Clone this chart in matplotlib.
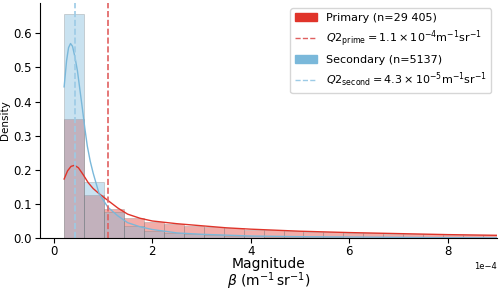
import matplotlib.pyplot as plt
import numpy as np
from matplotlib.patches import Patch
from matplotlib.lines import Line2D

# histogram bins (units of 1e-4 m^-1 sr^-1)
bin_start = 0.21
bin_width = 0.405

prime_heights = [0.348, 0.127, 0.086, 0.060, 0.048, 0.041, 0.036, 0.032, 0.028, 0.025, 0.023,
                 0.021, 0.019, 0.017, 0.015, 0.014, 0.013, 0.012, 0.011, 0.010, 0.009, 0.008]
second_heights = [0.656, 0.163, 0.075, 0.036, 0.022, 0.016, 0.012, 0.009, 0.007, 0.005, 0.004,
                  0.003, 0.0025, 0.002, 0.0015, 0.0012, 0.001, 0.0008, 0.0006, 0.0005, 0.0004, 0.0003]

# kde curves
prime_kde_x = [0.21, 0.28, 0.35, 0.42, 0.5, 0.6, 0.7, 0.8, 0.92, 1.1, 1.3, 1.5, 1.75, 2.0, 2.5,
               3.0, 3.5, 4.0, 5.0, 6.0, 7.0, 8.0, 9.0]
prime_kde_y = [0.173, 0.197, 0.210, 0.213, 0.206, 0.185, 0.162, 0.145, 0.130, 0.110, 0.088, 0.070,
               0.058, 0.050, 0.042, 0.036, 0.030, 0.026, 0.020, 0.016, 0.013, 0.010, 0.008]
second_kde_x = [0.21, 0.26, 0.30, 0.34, 0.38, 0.43, 0.48, 0.53, 0.58, 0.63, 0.68, 0.74, 0.8, 0.92,
                1.1, 1.3, 1.5, 1.75, 2.0, 2.5, 3.0, 4.0, 5.0, 6.0, 7.0, 8.0, 9.0]
second_kde_y = [0.443, 0.520, 0.558, 0.570, 0.562, 0.530, 0.490, 0.435, 0.380, 0.322, 0.270, 0.225,
                0.190, 0.130, 0.090, 0.065, 0.045, 0.033, 0.025, 0.015, 0.011, 0.006, 0.004,
                0.003, 0.002, 0.001, 0.0005]

q2_prime = 1.1
q2_second = 0.43
n_prime = "29 405"
n_second = "5137"

red = "#e0342a"
blue = "#7ab8da"

scale = 1e-4
edges = bin_start + bin_width * np.arange(len(prime_heights))

fig, ax = plt.subplots(figsize=(5, 2.91), dpi=100)

ax.bar(edges * scale, prime_heights, width=bin_width * scale, align="edge",
       color=red, alpha=0.4, edgecolor="0.45", linewidth=0.5)
ax.bar(edges * scale, second_heights, width=bin_width * scale, align="edge",
       color=blue, alpha=0.4, edgecolor="0.45", linewidth=0.5)

ax.plot(np.array(prime_kde_x) * scale, prime_kde_y, color=red, lw=1)
ax.plot(np.array(second_kde_x) * scale, second_kde_y, color=blue, lw=1)

ax.axvline(q2_prime * scale, color="#e06060", ls="--", lw=1.2)
ax.axvline(q2_second * scale, color="#9ccbe6", ls="--", lw=1.2)

ax.set_xlim(-0.28 * scale, 9.0 * scale)
ax.set_ylim(0, 0.689)
ax.ticklabel_format(axis="x", style="sci", scilimits=(-4, -4))
ax.xaxis.get_offset_text().set_fontsize(6)
ax.tick_params(labelsize=8.5, pad=2.5)
ax.tick_params(axis="x", pad=1.5)
ax.spines["top"].set_visible(False)
ax.spines["right"].set_visible(False)

ax.set_ylabel("Density", fontsize=7.5, labelpad=2)
ax.set_xlabel("Magnitude\n" + r"$\beta$ (m$^{-1}\,$sr$^{-1}$)", fontsize=10,
              linespacing=0.95)
ax.xaxis.set_label_coords(0.5, -0.08)

handles = [
    Patch(color=red),
    Line2D([], [], color="#e06060", ls="--", lw=1),
    Patch(color=blue),
    Line2D([], [], color="#9ccbe6", ls="--", lw=1),
]
labels = [
    f"Primary (n={n_prime})",
    r"$Q2_\mathrm{prime} = 1.1\times10^{-4}\mathrm{m}^{-1}\mathrm{sr}^{-1}$",
    f"Secondary (n={n_second})",
    r"$Q2_\mathrm{second} = 4.3\times10^{-5}\mathrm{m}^{-1}\mathrm{sr}^{-1}$",
]
ax.legend(handles, labels, loc="upper right", fontsize=8)

plt.subplots_adjust(left=0.08, right=0.994, top=0.99, bottom=0.182)
plt.savefig("out.png")
